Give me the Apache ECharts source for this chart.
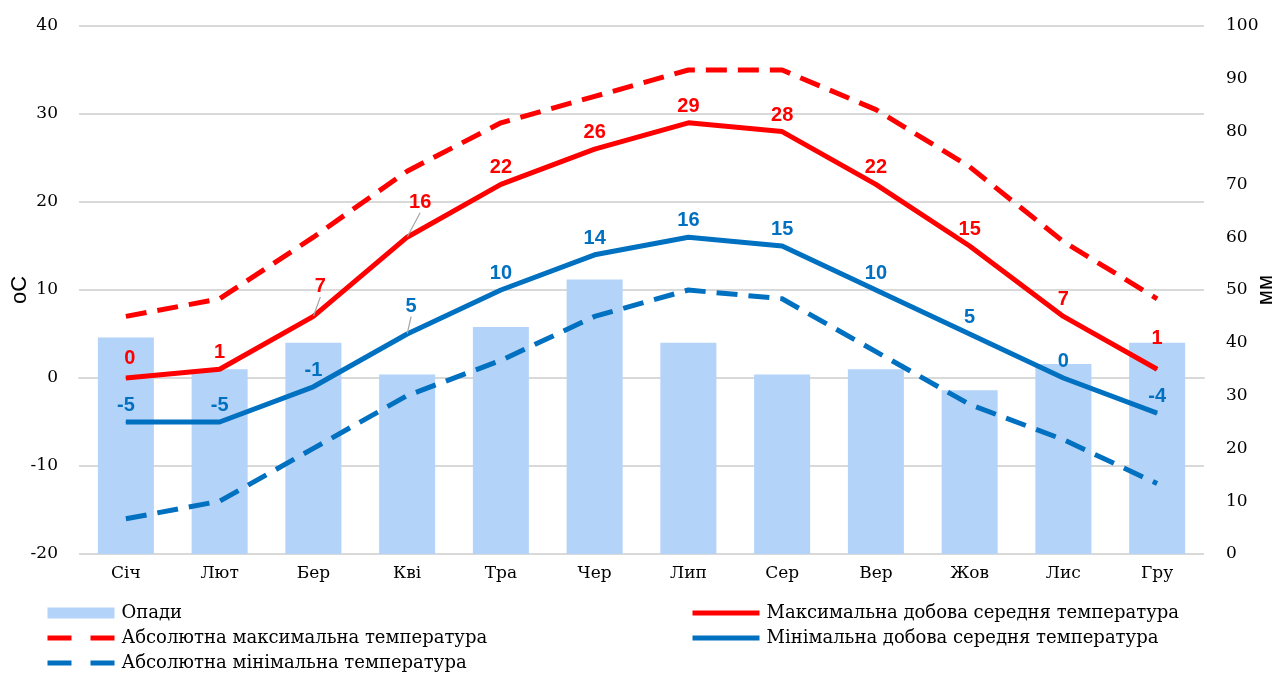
<!DOCTYPE html>
<html>
<head>
<meta charset="utf-8">
<script src="https://cdn.jsdelivr.net/npm/echarts@6/dist/echarts.min.js"></script>
<style>
  html, body { margin: 0; padding: 0; background: #fff; }
  #main { width: 1276px; height: 675px; }
</style>
</head>
<body>
<div id="main"></div>
<script>
  // місяці
  var months = ['Січ', 'Лют', 'Бер', 'Кві', 'Тра', 'Чер', 'Лип', 'Сер', 'Вер', 'Жов', 'Лис', 'Гру'];
  // опади, мм
  var precip = [41, 35, 40, 34, 43, 52, 40, 34, 35, 31, 36, 40];
  // температури, оС
  var maxAvg = [0, 1, 7, 16, 22, 26, 29, 28, 22, 15, 7, 1];
  var minAvg = [-5, -5, -1, 5, 10, 14, 16, 15, 10, 5, 0, -4];
  var absMax = [7, 9, 16, 23.5, 29, 32, 35, 35, 30.5, 24, 15.5, 9];
  var absMin = [-16, -14, -8, -2, 2, 7, 10, 9, 3, -3, -7, -12];
  var tempTicks = [-20, -10, 0, 10, 20, 30, 40];
  var mmTicks = [0, 10, 20, 30, 40, 50, 60, 70, 80, 90, 100];

  var RED = '#ff0000';
  var BLUE = '#0070c0';
  var serif = '"DejaVu Serif", serif';

  // зсуви підписів: [dx, dy, виноска]
  var shifted = {
    '1_2': [7, -13, true], '1_3': [13, -18, true], '3_3': [4, -11, true],
    '1_11': [0, -14, false], '1_0': [4, -3, false]
  };

  function withLines(arr, si) {
    return arr.map(function (v, i) {
      var s = shifted[si + '_' + i];
      return { value: v, labelLine: { show: !!(s && s[2]) } };
    });
  }

  function lbl(color) {
    return {
      show: true, position: 'top', distance: 6, color: color,
      fontFamily: 'Liberation Sans', fontWeight: 'bold', fontSize: 20
    };
  }
  var noDot = { opacity: 0 };
  var legendText = { fontFamily: serif, fontSize: 18, color: '#000', lineHeight: 22, padding: [0, 0, 0, 2] };

  var myChart = echarts.init(document.getElementById('main'));
  myChart.setOption({
    animation: false,
    grid: { left: 79, right: 72, top: 26, bottom: 121, outerBoundsMode: 'none', containLabel: false },
    legend: [
      {
        data: [
          { name: 'Опади', icon: 'rect' },
          { name: 'Абсолютна максимальна температура', itemStyle: noDot, lineStyle: { width: 5, type: [24, 19] } },
          { name: 'Абсолютна мінімальна температура', itemStyle: noDot, lineStyle: { width: 5, type: [24, 19] } }
        ],
        orient: 'vertical', left: 45, top: 602, itemGap: 3, padding: 0,
        itemWidth: 67, itemHeight: 11,
        textStyle: legendText
      },
      {
        data: [
          { name: 'Максимальна добова середня температура', itemStyle: noDot, lineStyle: { width: 5 } },
          { name: 'Мінімальна добова середня температура', itemStyle: noDot, lineStyle: { width: 5 } }
        ],
        orient: 'vertical', left: 690, top: 602, itemGap: 3, padding: 0,
        itemWidth: 67, itemHeight: 11,
        textStyle: legendText
      }
    ],
    xAxis: {
      type: 'category', data: months,
      axisTick: { show: false },
      axisLine: { lineStyle: { color: '#d9d9d9', width: 2 } },
      axisLabel: { margin: 11, fontFamily: serif, fontSize: 17, color: '#000' }
    },
    yAxis: [
      {
        type: 'value', min: tempTicks[0], max: tempTicks[tempTicks.length - 1], interval: 10,
        name: 'оС', nameLocation: 'middle', nameGap: 48, nameMoveOverlap: false,
        nameTextStyle: { fontFamily: 'Liberation Sans', fontSize: 22, color: '#000' },
        axisLabel: { margin: 21, fontFamily: serif, fontSize: 17, color: '#000' },
        splitLine: { lineStyle: { color: '#d9d9d9', width: 2 } },
        axisLine: { show: false }, axisTick: { show: false }
      },
      {
        type: 'value', min: mmTicks[0], max: mmTicks[mmTicks.length - 1], interval: 10,
        name: 'мм', nameLocation: 'middle', nameGap: 51, nameMoveOverlap: false,
        nameTextStyle: { fontFamily: 'Liberation Sans', fontSize: 22, color: '#000' },
        axisLabel: { margin: 22, fontFamily: serif, fontSize: 17, color: '#000' },
        splitLine: { show: false },
        axisLine: { show: false }, axisTick: { show: false }
      }
    ],
    labelLayout: function (p) {
      var s = shifted[p.seriesIndex + '_' + p.dataIndex];
      if (s) return { dx: s[0], dy: s[1] };
    },
    series: [
      {
        name: 'Опади', type: 'bar', yAxisIndex: 1, data: precip,
        barWidth: 56, itemStyle: { color: '#b4d3f8' }, z: 1
      },
      {
        name: 'Максимальна добова середня температура', type: 'line', data: withLines(maxAvg, 1),
        symbol: 'circle', symbolSize: 1, lineStyle: { color: RED, width: 5 }, itemStyle: { color: RED },
        label: lbl(RED),
        labelLine: { lineStyle: { color: '#a6a6a6', width: 1.2 } }, z: 5
      },
      {
        name: 'Абсолютна максимальна температура', type: 'line', data: absMax,
        symbol: 'none', lineStyle: { color: RED, width: 5, type: [21, 11] }, itemStyle: { color: RED }, z: 4
      },
      {
        name: 'Мінімальна добова середня температура', type: 'line', data: withLines(minAvg, 3),
        symbol: 'circle', symbolSize: 1, lineStyle: { color: BLUE, width: 5 }, itemStyle: { color: BLUE },
        label: lbl(BLUE),
        labelLine: { lineStyle: { color: '#a6a6a6', width: 1.2 } }, z: 5
      },
      {
        name: 'Абсолютна мінімальна температура', type: 'line', data: absMin,
        symbol: 'none', lineStyle: { color: BLUE, width: 5, type: [21, 11] }, itemStyle: { color: BLUE }, z: 4
      }
    ]
  });
</script>
</body>
</html>
